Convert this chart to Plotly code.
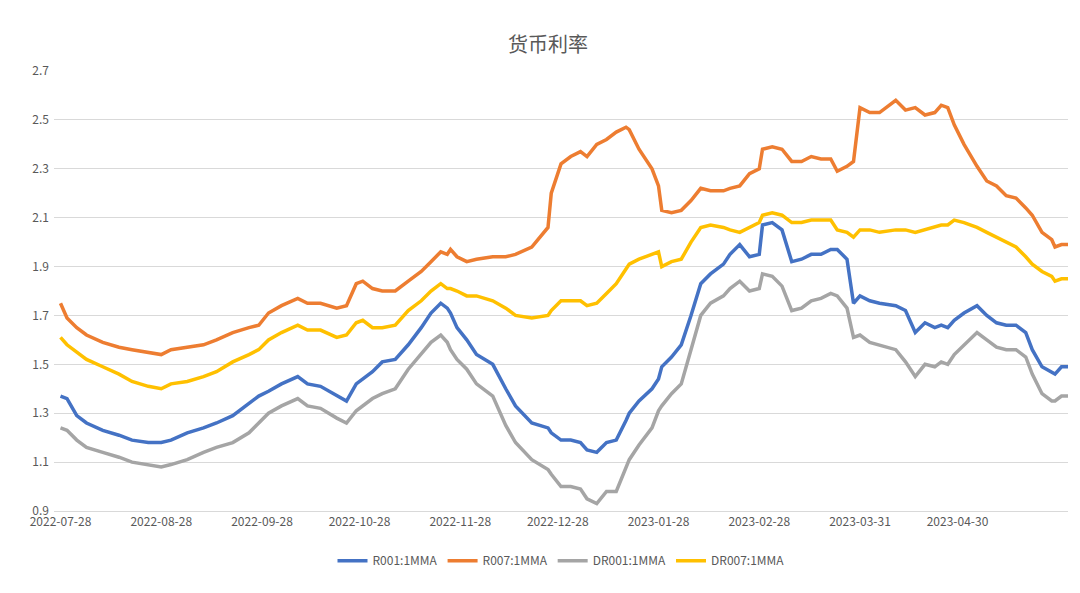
import pandas as pd
import plotly.graph_objects as go

# days since 2022-07-28
days = [0, 2, 5, 8, 13, 18, 22, 27, 31, 34, 39, 44, 48, 53, 58, 61, 64, 68, 73, 76,
        80, 85, 88, 91, 93, 96, 99, 103, 107, 111, 114, 117, 119, 120, 122, 125, 128, 133, 137, 140,
        145, 150, 151, 154, 157, 160, 162, 165, 168, 171, 174, 175, 178, 182, 184, 185, 188, 191, 194, 197,
        200, 204, 206, 209, 212, 215, 216, 219, 222, 225, 228, 231, 234, 237, 239, 242, 244, 246, 249, 252,
        257, 260, 263, 266, 269, 271, 273, 275, 278, 282, 285, 288, 291, 294, 297, 299, 302, 305, 306, 308, 310]

r001 = [1.37, 1.36, 1.29, 1.26, 1.23, 1.21, 1.19, 1.18, 1.18, 1.19, 1.22, 1.24, 1.26, 1.29, 1.34, 1.37, 1.39, 1.42, 1.45, 1.42,
        1.41, 1.37, 1.35, 1.42, 1.44, 1.47, 1.51, 1.52, 1.58, 1.65, 1.71, 1.75, 1.73, 1.71, 1.65, 1.60, 1.54, 1.50, 1.40, 1.33,
        1.26, 1.24, 1.22, 1.19, 1.19, 1.18, 1.15, 1.14, 1.18, 1.19, 1.27, 1.30, 1.35, 1.40, 1.44, 1.49, 1.53, 1.58, 1.70, 1.83,
        1.87, 1.91, 1.95, 1.99, 1.94, 1.95, 2.07, 2.08, 2.05, 1.92, 1.93, 1.95, 1.95, 1.97, 1.97, 1.93, 1.75, 1.78, 1.76, 1.75,
        1.74, 1.72, 1.63, 1.67, 1.65, 1.66, 1.65, 1.68, 1.71, 1.74, 1.70, 1.67, 1.66, 1.66, 1.63, 1.56, 1.49, 1.47, 1.46, 1.49, 1.49]

r007 = [1.75, 1.69, 1.65, 1.62, 1.59, 1.57, 1.56, 1.55, 1.54, 1.56, 1.57, 1.58, 1.60, 1.63, 1.65, 1.66, 1.71, 1.74, 1.77, 1.75,
        1.75, 1.73, 1.74, 1.83, 1.84, 1.81, 1.80, 1.80, 1.84, 1.88, 1.92, 1.96, 1.95, 1.97, 1.94, 1.92, 1.93, 1.94, 1.94, 1.95,
        1.98, 2.06, 2.20, 2.32, 2.35, 2.37, 2.35, 2.40, 2.42, 2.45, 2.47, 2.46, 2.38, 2.30, 2.23, 2.13, 2.12, 2.13, 2.17, 2.22,
        2.21, 2.21, 2.22, 2.23, 2.28, 2.30, 2.38, 2.39, 2.38, 2.33, 2.33, 2.35, 2.34, 2.34, 2.29, 2.31, 2.33, 2.55, 2.53, 2.53,
        2.58, 2.54, 2.55, 2.52, 2.53, 2.56, 2.55, 2.48, 2.40, 2.31, 2.25, 2.23, 2.19, 2.18, 2.14, 2.11, 2.04, 2.01, 1.98, 1.99, 1.99]

dr001 = [1.24, 1.23, 1.19, 1.16, 1.14, 1.12, 1.10, 1.09, 1.08, 1.09, 1.11, 1.14, 1.16, 1.18, 1.22, 1.26, 1.30, 1.33, 1.36, 1.33,
         1.32, 1.28, 1.26, 1.31, 1.33, 1.36, 1.38, 1.40, 1.48, 1.54, 1.59, 1.62, 1.59, 1.56, 1.52, 1.48, 1.42, 1.37, 1.25, 1.18,
         1.11, 1.07, 1.05, 1.00, 1.00, 0.99, 0.95, 0.93, 0.98, 0.98, 1.08, 1.11, 1.17, 1.24, 1.31, 1.33, 1.38, 1.42, 1.56, 1.70,
         1.75, 1.78, 1.81, 1.84, 1.80, 1.81, 1.87, 1.86, 1.82, 1.72, 1.73, 1.76, 1.77, 1.79, 1.78, 1.73, 1.61, 1.62, 1.59, 1.58,
         1.56, 1.51, 1.45, 1.50, 1.49, 1.51, 1.50, 1.54, 1.58, 1.63, 1.60, 1.57, 1.56, 1.56, 1.53, 1.46, 1.38, 1.35, 1.35, 1.37, 1.37]

dr007 = [1.61, 1.58, 1.55, 1.52, 1.49, 1.46, 1.43, 1.41, 1.40, 1.42, 1.43, 1.45, 1.47, 1.51, 1.54, 1.56, 1.60, 1.63, 1.66, 1.64,
         1.64, 1.61, 1.62, 1.67, 1.68, 1.65, 1.65, 1.66, 1.72, 1.76, 1.80, 1.83, 1.81, 1.81, 1.80, 1.78, 1.78, 1.76, 1.73, 1.70,
         1.69, 1.70, 1.72, 1.76, 1.76, 1.76, 1.74, 1.75, 1.79, 1.83, 1.89, 1.91, 1.93, 1.95, 1.96, 1.90, 1.92, 1.93, 2.00, 2.06,
         2.07, 2.06, 2.05, 2.04, 2.06, 2.08, 2.11, 2.12, 2.11, 2.08, 2.08, 2.09, 2.09, 2.09, 2.05, 2.04, 2.02, 2.05, 2.05, 2.04,
         2.05, 2.05, 2.04, 2.05, 2.06, 2.07, 2.07, 2.09, 2.08, 2.06, 2.04, 2.02, 2.00, 1.98, 1.94, 1.91, 1.88, 1.86, 1.84, 1.85, 1.85]

tick_dates = ["2022-07-28", "2022-08-28", "2022-09-28", "2022-10-28", "2022-11-28", "2022-12-28",
              "2023-01-28", "2023-02-28", "2023-03-31", "2023-04-30", "2023-05-31"]

dates = pd.Timestamp("2022-07-28") + pd.to_timedelta(days, unit="D")

series = [("R001:1MMA", r001, "#4472C4"),
          ("R007:1MMA", r007, "#ED7D31"),
          ("DR001:1MMA", dr001, "#A5A5A5"),
          ("DR007:1MMA", dr007, "#FFC000")]

fig = go.Figure()
for name, vals, color in series:
    fig.add_trace(go.Scatter(x=dates, y=vals, mode="lines", name=name,
                             line=dict(color=color, width=3.5)))

fig.update_layout(
    width=1080, height=593,
    paper_bgcolor="white", plot_bgcolor="white",
    font=dict(family="Noto Sans CJK SC", color="#595959", size=12),
    title=dict(text="货币利率", x=0.5, y=0.95, xanchor="center", font=dict(size=20, color="#595959")),
    margin=dict(l=46, r=20, t=63, b=90),
    legend=dict(orientation="h", x=0.5, xanchor="center", y=-0.08, yanchor="top",
                font=dict(size=12, color="#595959")),
    xaxis=dict(range=["2022-07-26", "2023-06-03"], tickvals=tick_dates, ticktext=tick_dates,
               showgrid=False, showline=True, linecolor="#D9D9D9", ticks="", tickfont=dict(size=12)),
    yaxis=dict(range=[0.9, 2.7], dtick=0.2, tick0=0.9, tickformat=".1f", showgrid=True,
               gridcolor="#D9D9D9", zeroline=False, ticks="", ticklabelstandoff=4),
)

fig.write_html("out.html")
